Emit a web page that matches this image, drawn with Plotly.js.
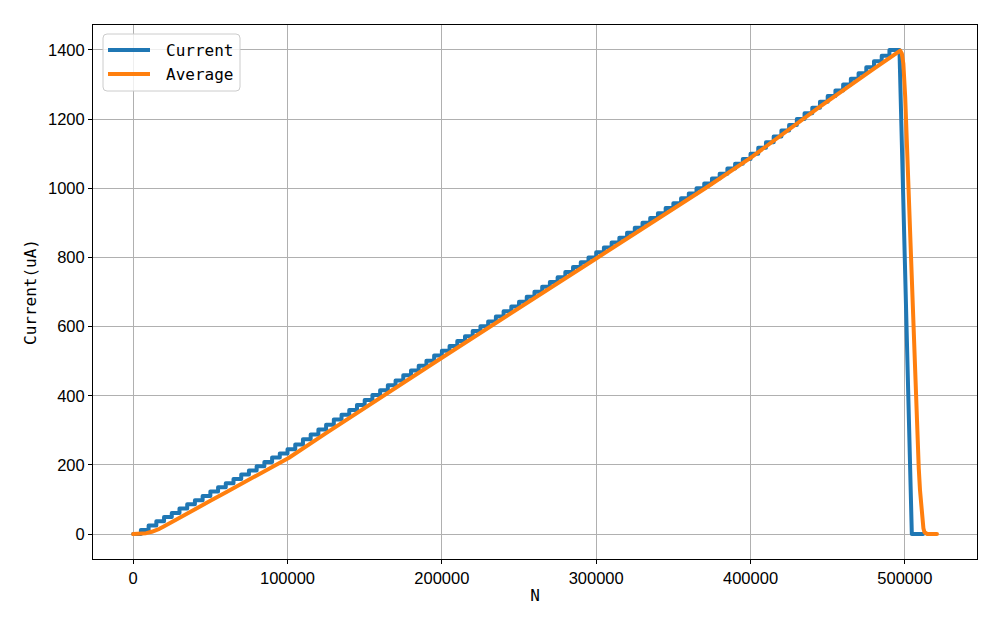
<!DOCTYPE html>
<html>
<head>
<meta charset="utf-8">
<script src="https://cdn.plot.ly/plotly-3.0.1.min.js"></script>
<style>html,body{margin:0;padding:0;background:#fff}#chart{width:1000px;height:625px}</style>
</head>
<body>
<div id="chart"></div>
<script>
// Step levels of the current (uA), one per 5000-sample step
const stepWidth = 5000;
const currentLevels = [
  0, 12, 25, 37, 49, 61, 74, 86, 98, 110, 123, 135, 147, 159, 172, 184, 196, 208, 221, 233, 245,
  259, 274, 288, 302, 316, 331, 345, 359, 373, 388, 402, 416, 430, 444, 459, 473, 487, 501, 516, 530,
  544, 558, 572, 587, 601, 615, 629, 644, 658, 672, 686, 701, 715, 729, 743, 758, 772, 786, 800, 815,
  829, 843, 857, 871, 886, 900, 914, 928, 943, 957, 971, 985, 1000, 1014, 1028, 1042, 1057, 1071, 1085, 1100,
  1117, 1133, 1150, 1167, 1183, 1200, 1217, 1233, 1250, 1267, 1283, 1300, 1317, 1333, 1350, 1367, 1383, 1400
];
// Tail of the current: end of last step, drop, and zero segment
const currentTailX = [496500, 504500, 511800];
const currentTailY = [1400, 0, 0];

// Average curve
const avgX = [0, 5000, 8400, 12000, 15000, 17000, 19500, 25000, 30000, 38600, 50000, 60200, 81700, 100700, 125000, 150000, 200000, 300000, 370700, 400000, 445000, 480000, 494000, 496000, 497000, 498000, 499000, 500200, 501600, 503000, 505000, 507000, 508100, 509000, 509800, 510500, 511300, 512000, 512700, 513500, 514500, 520800];
const avgY = [0, 0.5, 2.5, 6.5, 11, 15, 21, 34, 47, 68, 96, 121, 173, 220, 292, 365, 510, 797, 1000, 1088, 1236, 1346, 1390, 1396, 1398, 1390, 1361, 1265, 1082, 905, 658, 409, 272, 190, 127, 78, 40, 17, 5, 1, 0, 0];

const seriesNames = ['Current', 'Average'];
const seriesColors = ['#1f77b4', '#ff7f0e'];
const xTicks = [0, 100000, 200000, 300000, 400000, 500000];
const yTicks = [0, 200, 400, 600, 800, 1000, 1200, 1400];

// Build staircase vertices
const curX = [], curY = [];
currentLevels.forEach((v, k) => {
  curX.push(k * stepWidth); curY.push(v);
  if (k < currentLevels.length - 1) { curX.push((k + 1) * stepWidth); curY.push(v); }
});
currentTailX.forEach((x, i) => { curX.push(x); curY.push(currentTailY[i]); });

const monoFont = '"DejaVu Sans Mono", monospace';
const tickFont = {family: '"Liberation Sans", Arial, sans-serif', size: 16.5, color: '#000'};

const traces = [
  {x: curX, y: curY, type: 'scatter', mode: 'lines', name: seriesNames[0],
   line: {color: seriesColors[0], width: 4}},
  {x: avgX, y: avgY, type: 'scatter', mode: 'lines', name: seriesNames[1],
   line: {color: seriesColors[1], width: 4}}
];

const axisCommon = {
  showgrid: true, gridcolor: '#b0b0b0', gridwidth: 1,
  zeroline: false, showline: true, mirror: true, linecolor: '#000', linewidth: 1,
  ticks: 'outside', ticklen: 4, tickwidth: 1, tickcolor: '#000',
  tickfont: tickFont
};

// Manual legend (pixel geometry converted to paper coordinates)
const M = {l: 93, r: 23, t: 25, b: 66};
const PW = 1000 - M.l - M.r, PH = 625 - M.t - M.b;
const px = v => (v - M.l) / PW;
const py = v => (625 - M.b - v) / PH;
function roundRect(x0, y0, x1, y1, r) {
  const rx = r / PW, ry = r / PH;
  const X0 = px(x0), X1 = px(x1), Y0 = py(y0), Y1 = py(y1);
  return `M${X0 + rx},${Y0} L${X1 - rx},${Y0} Q${X1},${Y0} ${X1},${Y0 - ry} L${X1},${Y1 + ry} Q${X1},${Y1} ${X1 - rx},${Y1} L${X0 + rx},${Y1} Q${X0},${Y1} ${X0},${Y1 + ry} L${X0},${Y0 - ry} Q${X0},${Y0} ${X0 + rx},${Y0} Z`;
}
const shapes = [{
  type: 'path', xref: 'paper', yref: 'paper', layer: 'above',
  path: roundRect(103, 34, 240, 91, 4),
  fillcolor: 'rgba(255,255,255,0.8)', line: {color: '#cccccc', width: 1}
}];
const annotations = [];
seriesNames.forEach((name, i) => {
  const yy = 50 + i * 24;
  shapes.push({type: 'line', xref: 'paper', yref: 'paper', layer: 'above',
    x0: px(108), x1: px(150), y0: py(yy), y1: py(yy),
    line: {color: seriesColors[i], width: 4}});
  annotations.push({xref: 'paper', yref: 'paper', x: px(164), y: py(yy),
    xanchor: 'left', yanchor: 'middle', showarrow: false, text: name,
    font: {family: monoFont, size: 16, color: '#000'}});
});

const layout = {
  width: 1000, height: 625,
  margin: M,
  paper_bgcolor: '#fff', plot_bgcolor: '#fff',
  showlegend: false,
  shapes: shapes, annotations: annotations,
  xaxis: Object.assign({}, axisCommon, {
    range: [-26035, 546735], tickvals: xTicks, ticktext: xTicks.map(String),
    title: {text: 'N', font: {family: monoFont, size: 16, color: '#000'}, standoff: 4}
  }),
  yaxis: Object.assign({}, axisCommon, {
    range: [-72.2, 1472.2], tickvals: yTicks, ticktext: yTicks.map(String),
    title: {text: 'Current(uA)', font: {family: monoFont, size: 16, color: '#000'}, standoff: 7}
  })
};

Plotly.newPlot('chart', traces, layout, {displayModeBar: false, staticPlot: true}).then(() => {
  document.querySelectorAll('.scatterlayer path.js-line').forEach(p => {
    p.style.strokeLinejoin = 'round';
    p.style.strokeLinecap = 'round';
  });
});
</script>
</body>
</html>
